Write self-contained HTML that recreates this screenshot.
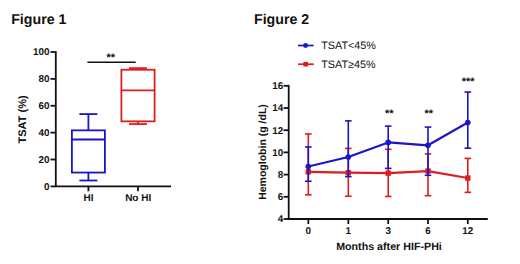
<!DOCTYPE html><html><head><meta charset="utf-8"><style>
html,body{margin:0;padding:0;background:#fff;width:520px;height:264px;overflow:hidden;}
svg{position:absolute;left:0;top:0;display:block;}
text{font-family:"Liberation Sans", sans-serif;fill:#111;text-rendering:geometricPrecision;}
.b{font-weight:bold;}
</style></head><body>
<svg width="520" height="264" viewBox="0 0 520 264">
<text class="b" x="11.2" y="24.3" font-size="14.2">Figure 1</text>
<text class="b" x="254" y="24.3" font-size="14.2">Figure 2</text>
<g stroke="#111" stroke-width="1.8" fill="none" stroke-linecap="butt">
<line x1="55.8" y1="51.1" x2="55.8" y2="186.4"/>
<line x1="54.9" y1="186.4" x2="171" y2="186.4"/>
<line x1="50.5" y1="186.40" x2="55.8" y2="186.40"/>
<line x1="50.5" y1="159.52" x2="55.8" y2="159.52"/>
<line x1="50.5" y1="132.64" x2="55.8" y2="132.64"/>
<line x1="50.5" y1="105.76" x2="55.8" y2="105.76"/>
<line x1="50.5" y1="78.88" x2="55.8" y2="78.88"/>
<line x1="50.5" y1="52.00" x2="55.8" y2="52.00"/>
<line x1="88.4" y1="186.4" x2="88.4" y2="191.3"/>
<line x1="138.0" y1="186.4" x2="138.0" y2="191.3"/>
<line x1="87.4" y1="62.2" x2="135.7" y2="62.2" stroke-width="1.5"/>
</g>
<text class="b" x="49.6" y="189.80" font-size="9.9" text-anchor="end">0</text>
<text class="b" x="49.6" y="162.92" font-size="9.9" text-anchor="end">20</text>
<text class="b" x="49.6" y="136.04" font-size="9.9" text-anchor="end">40</text>
<text class="b" x="49.6" y="109.16" font-size="9.9" text-anchor="end">60</text>
<text class="b" x="49.6" y="82.28" font-size="9.9" text-anchor="end">80</text>
<text class="b" x="49.6" y="55.40" font-size="9.9" text-anchor="end">100</text>
<text class="b" x="88.6" y="201.2" font-size="10" text-anchor="middle">HI</text>
<text class="b" x="138.2" y="201.2" font-size="10" text-anchor="middle">No HI</text>
<text class="b" x="110.8" y="61" font-size="11" text-anchor="middle">**</text>
<text class="b" transform="translate(26.0,119.4) rotate(-90)" font-size="11" text-anchor="middle">TSAT (%)</text>
<g stroke="#1b15c8" stroke-width="1.8" fill="none"><rect x="71.9" y="130.36" width="33.0" height="42.20"/><line x1="71.9" y1="139.49" x2="104.9" y2="139.49"/><line x1="88.4" y1="130.36" x2="88.4" y2="114.09"/><line x1="88.4" y1="172.56" x2="88.4" y2="180.49"/><line x1="79.4" y1="114.09" x2="97.4" y2="114.09"/><line x1="79.4" y1="180.49" x2="97.4" y2="180.49"/></g>
<g stroke="#dc1e1e" stroke-width="1.8" fill="none"><rect x="121.4" y="69.74" width="33.2" height="51.61"/><line x1="121.4" y1="90.44" x2="154.6" y2="90.44"/><line x1="138.0" y1="69.74" x2="138.0" y2="68.13"/><line x1="138.0" y1="121.35" x2="138.0" y2="124.04"/><line x1="129.0" y1="68.13" x2="147.0" y2="68.13"/><line x1="129.0" y1="124.04" x2="147.0" y2="124.04"/></g>
<g stroke="#111" stroke-width="1.8" fill="none">
<line x1="288.7" y1="84.90" x2="288.7" y2="219.0"/>
<line x1="287.8" y1="219.0" x2="487.8" y2="219.0"/>
<line x1="283.6" y1="219.00" x2="288.7" y2="219.00"/>
<line x1="283.6" y1="196.80" x2="288.7" y2="196.80"/>
<line x1="283.6" y1="174.60" x2="288.7" y2="174.60"/>
<line x1="283.6" y1="152.40" x2="288.7" y2="152.40"/>
<line x1="283.6" y1="130.20" x2="288.7" y2="130.20"/>
<line x1="283.6" y1="108.00" x2="288.7" y2="108.00"/>
<line x1="283.6" y1="85.80" x2="288.7" y2="85.80"/>
<line x1="308.3" y1="219.0" x2="308.3" y2="224"/>
<line x1="348.3" y1="219.0" x2="348.3" y2="224"/>
<line x1="388.2" y1="219.0" x2="388.2" y2="224"/>
<line x1="428.0" y1="219.0" x2="428.0" y2="224"/>
<line x1="467.8" y1="219.0" x2="467.8" y2="224"/>
</g>
<text class="b" x="283.2" y="222.40" font-size="9.9" text-anchor="end">4</text>
<text class="b" x="283.2" y="200.20" font-size="9.9" text-anchor="end">6</text>
<text class="b" x="283.2" y="178.00" font-size="9.9" text-anchor="end">8</text>
<text class="b" x="283.2" y="155.80" font-size="9.9" text-anchor="end">10</text>
<text class="b" x="283.2" y="133.60" font-size="9.9" text-anchor="end">12</text>
<text class="b" x="283.2" y="111.40" font-size="9.9" text-anchor="end">14</text>
<text class="b" x="283.2" y="89.20" font-size="9.9" text-anchor="end">16</text>
<text class="b" x="308.3" y="233.5" font-size="9.9" text-anchor="middle">0</text>
<text class="b" x="348.3" y="233.5" font-size="9.9" text-anchor="middle">1</text>
<text class="b" x="388.2" y="233.5" font-size="9.9" text-anchor="middle">3</text>
<text class="b" x="428.0" y="233.5" font-size="9.9" text-anchor="middle">6</text>
<text class="b" x="467.8" y="233.5" font-size="9.9" text-anchor="middle">12</text>
<text class="b" x="389" y="249.7" font-size="10.7" text-anchor="middle">Months after HIF-PHi</text>
<text class="b" transform="translate(266.3,152) rotate(-90)" font-size="10.5" text-anchor="middle">Hemoglobin (g /dL)</text>
<g stroke="#dc1e1e" stroke-width="1.6" fill="none"><line x1="308.3" y1="133.97" x2="308.3" y2="194.80"/><line x1="305.0" y1="133.97" x2="311.6" y2="133.97"/><line x1="305.0" y1="194.80" x2="311.6" y2="194.80"/><line x1="348.3" y1="148.40" x2="348.3" y2="196.25"/><line x1="345.0" y1="148.40" x2="351.6" y2="148.40"/><line x1="345.0" y1="196.25" x2="351.6" y2="196.25"/><line x1="388.2" y1="149.29" x2="388.2" y2="196.47"/><line x1="384.9" y1="149.29" x2="391.5" y2="149.29"/><line x1="384.9" y1="196.47" x2="391.5" y2="196.47"/><line x1="428.0" y1="153.95" x2="428.0" y2="195.69"/><line x1="424.7" y1="153.95" x2="431.3" y2="153.95"/><line x1="424.7" y1="195.69" x2="431.3" y2="195.69"/><line x1="467.8" y1="158.39" x2="467.8" y2="192.36"/><line x1="464.5" y1="158.39" x2="471.1" y2="158.39"/><line x1="464.5" y1="192.36" x2="471.1" y2="192.36"/></g><polyline points="308.3,171.82 348.3,172.71 388.2,173.16 428.0,171.05 467.8,178.04" stroke="#dc1e1e" stroke-width="2.2" fill="none" stroke-linejoin="round"/><rect x="305.6" y="169.12" width="5.4" height="5.4" fill="#dc1e1e"/><rect x="345.6" y="170.01" width="5.4" height="5.4" fill="#dc1e1e"/><rect x="385.5" y="170.46" width="5.4" height="5.4" fill="#dc1e1e"/><rect x="425.3" y="168.35" width="5.4" height="5.4" fill="#dc1e1e"/><rect x="465.1" y="175.34" width="5.4" height="5.4" fill="#dc1e1e"/>
<g stroke="#1b15c8" stroke-width="1.6" fill="none"><line x1="308.3" y1="146.96" x2="308.3" y2="181.26"/><line x1="305.0" y1="146.96" x2="311.6" y2="146.96"/><line x1="305.0" y1="181.26" x2="311.6" y2="181.26"/><line x1="348.3" y1="120.88" x2="348.3" y2="176.60"/><line x1="345.0" y1="120.88" x2="351.6" y2="120.88"/><line x1="345.0" y1="176.60" x2="351.6" y2="176.60"/><line x1="388.2" y1="126.09" x2="388.2" y2="168.38"/><line x1="384.9" y1="126.09" x2="391.5" y2="126.09"/><line x1="384.9" y1="168.38" x2="391.5" y2="168.38"/><line x1="428.0" y1="127.09" x2="428.0" y2="175.27"/><line x1="424.7" y1="127.09" x2="431.3" y2="127.09"/><line x1="424.7" y1="175.27" x2="431.3" y2="175.27"/><line x1="467.8" y1="92.02" x2="467.8" y2="148.18"/><line x1="464.5" y1="92.02" x2="471.1" y2="92.02"/><line x1="464.5" y1="148.18" x2="471.1" y2="148.18"/></g><polyline points="308.3,166.50 348.3,156.95 388.2,142.41 428.0,145.30 467.8,122.54" stroke="#1b15c8" stroke-width="2.2" fill="none" stroke-linejoin="round"/><circle cx="308.3" cy="166.50" r="2.8" fill="#1b15c8"/><circle cx="348.3" cy="156.95" r="2.8" fill="#1b15c8"/><circle cx="388.2" cy="142.41" r="2.8" fill="#1b15c8"/><circle cx="428.0" cy="145.30" r="2.8" fill="#1b15c8"/><circle cx="467.8" cy="122.54" r="2.8" fill="#1b15c8"/>
<text class="b" x="389.3" y="117" font-size="11" text-anchor="middle">**</text>
<text class="b" x="428.8" y="117" font-size="11" text-anchor="middle">**</text>
<text class="b" x="468.2" y="85" font-size="11" text-anchor="middle">***</text>
<line x1="298" y1="45.5" x2="313.6" y2="45.5" stroke="#1b15c8" stroke-width="1.7"/>
<circle cx="305.6" cy="45.5" r="2.4" fill="#1b15c8"/>
<text x="321.2" y="49.2" font-size="10.8">TSAT&lt;45%</text>
<line x1="298" y1="64.2" x2="313.8" y2="64.2" stroke="#dc1e1e" stroke-width="1.7"/>
<rect x="303.4" y="61.9" width="4.6" height="4.6" fill="#dc1e1e"/>
<text x="321.2" y="68.2" font-size="10.8">TSAT≥45%</text>
</svg></body></html>
